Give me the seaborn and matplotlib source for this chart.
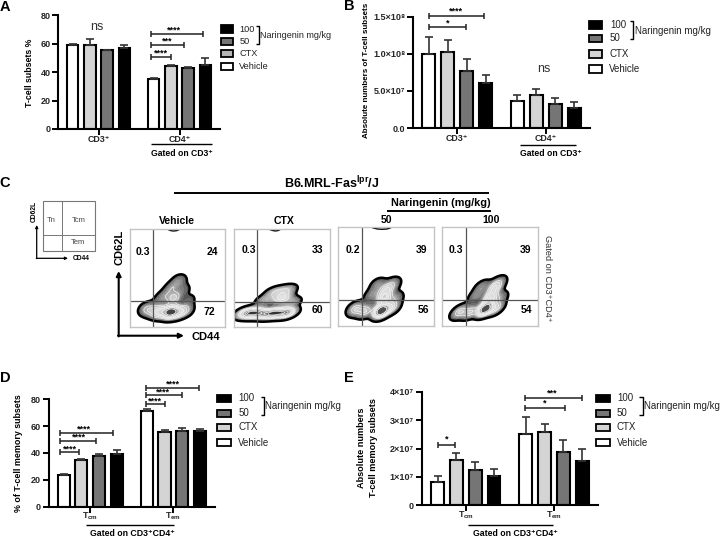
import matplotlib
matplotlib.use('Agg')
import matplotlib.pyplot as plt
from matplotlib.colors import LinearSegmentedColormap
from matplotlib.patches import Rectangle
import numpy as np
import pandas as pd
import seaborn as sns

GROUPS = ['Vehicle', 'CTX', '50', '100']
BAR_COLORS = ['white', '#d4d4d4', '#757575', 'black']

# bar panels, four values per subset in GROUPS order
a_subsets = ['CD3⁺', 'CD4⁺']
a_vals = [59, 59.5, 55.5, 57, 35.5, 44.5, 43.2, 45]
a_err = [0.7, 4.2, 0.3, 2.2, 0.5, 0.8, 0.5, 4.8]

b_subsets = ['CD3⁺', 'CD4⁺']
b_vals = [1.0e8, 1.02e8, 0.77e8, 0.6e8, 0.36e8, 0.45e8, 0.33e8, 0.27e8]
b_err = [0.23e8, 0.16e8, 0.16e8, 0.12e8, 0.08e8, 0.07e8, 0.07e8, 0.08e8]

d_subsets = [r'T$_{\mathbf{cm}}$', r'T$_{\mathbf{em}}$']
d_vals = [23.7, 34.7, 37.8, 39, 71.5, 56, 56.7, 56.2]
d_err = [0.8, 0.5, 1.2, 3, 1, 1, 1.6, 1.8]

e_subsets = [r'T$_{\mathbf{cm}}$', r'T$_{\mathbf{em}}$']
e_vals = [0.83e7, 1.58e7, 1.25e7, 1.04e7, 2.52e7, 2.58e7, 1.88e7, 1.55e7]
e_err = [0.19e7, 0.25e7, 0.28e7, 0.23e7, 0.6e7, 0.3e7, 0.42e7, 0.43e7]

# flow panels, density centres in percent of the plot box
veh_x = [17, 24, 31.5, 42, 50.5, 59, 46, 44, 51.5, 56, 31.5, 62, 37]
veh_y = [18.4, 16.3, 15.3, 15.3, 15.3, 17.3, 29.6, 39.8, 47, 38, 27.6, 27.6, 32.7]
veh_w = [2, 2, 4, 8, 4, 2, 3, 1.5, 1.5, 1, 1, 0.8, 1]

ctx_x = [12, 22, 33, 42.8, 55, 49.8, 42.5, 55, 32, 60]
ctx_y = [14.3, 14.3, 13.3, 14.3, 14.6, 29.6, 35.7, 37.8, 27.6, 25.5]
ctx_w = [2.5, 3, 2, 3, 3, 2, 1.2, 1.2, 1, 1]

n50_x = [18, 28, 44.8, 56, 47.9, 50, 57, 35.3, 60, 41.6]
n50_y = [17.2, 15.2, 15.2, 19.2, 28.4, 36.5, 42.5, 31.4, 28.4, 42]
n50_w = [2, 2, 6, 2, 3, 2, 1.2, 1, 1, 1]

n100_x = [18, 29, 44.8, 56, 50, 54.2, 58, 35.3, 60.5, 41.6]
n100_y = [14.2, 14.2, 17.2, 18.2, 28.4, 37.5, 43.5, 30.4, 28.4, 40]
n100_w = [2, 2, 6, 2, 3, 2, 1.4, 1, 1, 1]

# small contour caught at the top edge of three flow boxes
arc_x = [[40, 43, 46, 49, 52], [37, 40, 43, 46, 48], [36, 41, 46, 51, 55], []]
arc_y = [[99.5, 98.3, 98, 98.3, 99.5], [99.5, 98.5, 98, 98.5, 99.5], [99.5, 98.3, 98, 98.3, 99.5], []]

flow_vline = [24.4, 24, 24.8, 24.5]
flow_hline = [26.2, 26, 26, 26]
flow_labels = [['0.3', '24', '72'], ['0.3', '33', '60'], ['0.2', '39', '56'], ['0.3', '39', '54']]

sns.set_theme(style='ticks')
plt.rcParams['font.family'] = ['Liberation Sans', 'DejaVu Sans']
plt.rcParams['mathtext.fontset'] = 'custom'
plt.rcParams['mathtext.rm'] = 'Liberation Sans'
plt.rcParams['mathtext.bf'] = 'Liberation Sans:bold'

W, H = 720, 538
fig = plt.figure(figsize=(W / 100, H / 100), dpi=100)


def px_axes(x0, y0, x1, y1):
    return fig.add_axes([x0 / W, 1 - y1 / H, (x1 - x0) / W, (y1 - y0) / H])


def bar_panel(box, subsets, vals, err, ymax, ticks, ticklabels, xpad=0.5):
    ax = px_axes(*box)
    df = pd.DataFrame({
        'subset': np.repeat(subsets, 4),
        'group': GROUPS * 2,
        'value': vals,
        'err': err,
    })
    sns.barplot(data=df, x='subset', y='value', hue='group', hue_order=GROUPS,
                palette=BAR_COLORS, width=0.855, gap=0.32, edgecolor='black',
                linewidth=1.5, errorbar=None, legend=False, ax=ax)
    for cont, group in zip(ax.containers, GROUPS):
        sub = df[df['group'] == group]
        xs = [p.get_x() + p.get_width() / 2 for p in cont]
        ax.errorbar(xs, sub['value'], yerr=[np.zeros(2), sub['err']], fmt='none',
                    ecolor='#333333', elinewidth=1.2, capsize=3, capthick=1.2, zorder=1)
    ax.set(xlim=(-0.5, 1.5), ylim=(0, ymax), xlabel='', ylabel='')
    ax.set_yticks(ticks)
    ax.set_yticklabels(ticklabels)
    ax.tick_params(width=1.4, length=4, labelsize=6.5, pad=1.5, color='black')
    for lab in ax.get_xticklabels() + ax.get_yticklabels():
        lab.set_fontweight('bold')
    ax.tick_params(axis='x', labelsize=6.4, pad=xpad)
    for s in ['left', 'bottom']:
        ax.spines[s].set_linewidth(1.5)
        ax.spines[s].set_color('black')
    sns.despine(ax=ax)
    ax.patch.set_alpha(0)
    return ax


bar_panel((58, 15.5, 220, 129), a_subsets, a_vals, a_err, 80,
          [0, 20, 40, 60, 80], ['0', '20', '40', '60', '80'])
bar_panel((413, 16.7, 590, 128), b_subsets, b_vals, b_err, 1.5e8,
          [0, 0.5e8, 1e8, 1.5e8], ['0.0', '5.0×10⁷', '1.0×10⁸', '1.5×10⁸'])
bar_panel((48.7, 399.3, 215, 506.7), d_subsets, d_vals, d_err, 80,
          [0, 20, 40, 60, 80], ['0', '20', '40', '60', '80'], xpad=-1)
bar_panel((421.7, 391.7, 598, 505.3), e_subsets, e_vals, e_err, 4e7,
          [0, 1e7, 2e7, 3e7, 4e7], ['0', '1×10⁷', '2×10⁷', '3×10⁷', '4×10⁷'], xpad=-1)

# flow plots
flow_cmap = LinearSegmentedColormap.from_list(
    'flow', ['#4a4a4a', '#a0a0a0', '#d2d2d2', '#e2e2e2', '#c4c4c4', '#808080', '#1e1e1e'])
flow_boxes = [(130.3, 229, 224.7, 327), (234.3, 229, 330, 327),
              (338.3, 227.3, 433.7, 326), (442.3, 227.3, 537.7, 326)]
flow_events = [(veh_x, veh_y, veh_w), (ctx_x, ctx_y, ctx_w), (n50_x, n50_y, n50_w), (n100_x, n100_y, n100_w)]

for i, (box, ev) in enumerate(zip(flow_boxes, flow_events)):
    ax = px_axes(*box)
    x, y, w = ev
    sns.kdeplot(x=x, y=y, weights=w, fill=True, levels=18, thresh=0.04, bw_adjust=0.6,
                cmap=flow_cmap, gridsize=120, ax=ax)
    sns.kdeplot(x=x, y=y, weights=w, levels=[0.35, 0.5, 0.65, 0.8, 0.9], bw_adjust=0.6,
                color='#f2f2f2', linewidths=0.5, gridsize=120, ax=ax)
    sns.kdeplot(x=x, y=y, weights=w, levels=[0.04], bw_adjust=0.6,
                color='black', linewidths=1.8, gridsize=120, ax=ax)
    ax.plot(arc_x[i], arc_y[i], color='black', lw=1.0)
    ax.axvline(flow_vline[i], color='#555555', lw=0.9)
    ax.axhline(flow_hline[i], color='#555555', lw=0.9)
    ax.set(xlim=(0, 100), ylim=(0, 100), xticks=[], yticks=[], xlabel='', ylabel='')
    for s in ax.spines.values():
        s.set_color('#c4c4c4')
        s.set_linewidth(1.0)

# everything below is annotation, placed in image pixels
ov = fig.add_axes([0, 0, 1, 1], zorder=10)
ov.set(xlim=(0, W), ylim=(H, 0))
ov.axis('off')


def txt(x, y, s, size=6.5, bold=True, ha='center', va='center', rot=0, color='black'):
    ov.text(x, y, s, fontsize=size, fontweight='bold' if bold else 'normal',
            ha=ha, va=va, rotation=rot, color=color)


def line(xs, ys, lw=1.0, color='black'):
    ov.plot(xs, ys, color=color, lw=lw, solid_capstyle='butt')


def sig(x0, x1, y, stars, sx, sy):
    line([x0, x1], [y, y], 1.1, '#222222')
    for xx in (x0, x1):
        line([xx, xx], [y - 3, y + 3], 1.1, '#222222')
    txt(sx, sy + 1, stars, size=6.5)


def legend(x0, x1, ys, tx, t100x, bx, by0, by1, nx, ny, ctx_color='#d4d4d4', size=7, nsize=7):
    cols = ['black', '#757575', ctx_color, 'white']
    labs = ['100', '50', 'CTX', 'Vehicle']
    for yy, col, lab in zip(ys, cols, labs):
        ov.add_patch(Rectangle((x0, yy - 3.7), x1 - x0, 7.4, fc=col, ec='black', lw=1.3))
        txt(t100x if lab == '100' else tx, yy, lab, size=size, bold=False, ha='left', color='#222222')
    line([bx, bx + 3.3, bx + 3.3, bx], [by0, by0, by1, by1], 1.0)
    txt(nx, ny, 'Naringenin mg/kg', size=nsize, bold=False, ha='left', color='#222222')


# panel letters
for lx, ly, s in [(5, 7, 'A'), (349, 6, 'B'), (5, 183, 'C'), (5, 378, 'D'), (349, 378, 'E')]:
    txt(lx, ly, s, size=10.5)

# A
txt(29.3, 72.7, 'T-cell subsets %', size=6.3, rot=90)
txt(97, 27, 'ns', size=9, bold=False, color='#333333')
sig(150.7, 203.3, 34.3, '****', 174, 29)
sig(150.7, 184.3, 44.7, '***', 167, 40)
sig(150.7, 171.3, 57, '****', 161, 52)
line([150.7, 212.3], [144.3, 144.3], 1.0)
txt(181.7, 153.3, 'Gated on CD3⁺', size=6.2)
legend(221, 233.3, [29, 41.3, 53.7, 66.7], 239.3, 239.3, 255.5, 26, 44, 260.3, 35.7, '#b5b5b5', 6.6, 6.5)

# B
txt(366.7, 70, 'Absolute numbers of T-cell subsets', size=5.8, rot=90)
txt(544.3, 69, 'ns', size=9, bold=False, color='#333333')
sig(429, 484.3, 15.7, '****', 456, 10)
sig(429, 465.7, 27.3, '*', 447.3, 22)
line([520, 576], [144.7, 144.7], 1.0)
txt(550.7, 153.3, 'Gated on CD3⁺', size=6.2)
legend(588.7, 602.3, [25, 38.3, 54, 69], 609.3, 610.7, 630, 21.3, 39.3, 634.7, 30.7)

# D
txt(18.7, 453.3, '% of T-cell memory subsets', size=6.4, rot=90)
sig(60.3, 113, 432.7, '****', 84.3, 428.5)
sig(60.3, 96, 440.8, '****', 78.7, 436.5)
sig(60.3, 79, 452, '****', 70, 448)
sig(146, 198.7, 387.7, '****', 172.7, 383.5)
sig(146, 181.7, 395, '****', 163.3, 391)
sig(146, 165.3, 404.3, '****', 155.3, 400)
line([86, 174], [525.3, 525.3], 1.0)
txt(132.7, 534, 'Gated on CD3⁺CD4⁺', size=6.3)
legend(216.7, 231, [398.3, 413.3, 427.3, 442.7], 238.3, 238.7, 260.7, 397, 415.3, 265, 406.3)

# E
txt(361.7, 448, 'Absolute numbers', size=6.6, rot=90)
txt(374, 448, 'T-cell memory subsets', size=6.6, rot=90)
sig(438, 454.7, 445, '*', 446.3, 438)
sig(525, 582.3, 397.7, '***', 552.3, 392.5)
sig(525, 564.7, 407.7, '*', 544.7, 402.5)
line([468.3, 552.7], [525, 525], 1.0)
txt(515.7, 533.5, 'Gated on CD3⁺CD4⁺', size=6.3)
legend(595.7, 610, [398.3, 413.3, 427.3, 442.7], 616.7, 617, 639.3, 397, 415.3, 644, 406.3)

# C header
txt(332, 183, r'B6.MRL-Fas$^{\mathbf{lpr}}$/J', size=9)
line([174.3, 489.3], [193.3, 193.3], 1.4)
txt(440.7, 203.3, 'Naringenin (mg/kg)', size=7.8)
line([387.3, 490.7], [210.7, 210.7], 1.4)
for cx, cy, s in [(177.3, 221.3, 'Vehicle'), (284, 221.3, 'CTX'), (386.7, 220, '50'), (491.3, 220, '100')]:
    txt(cx, cy, s, size=7.6)
txt(547.3, 278.3, 'Gated on CD3⁺CD4⁺', size=6.6, bold=False, rot=270, color='#333333')

# C quadrant percentages
flow_text_pos = [[(142.7, 251.7), (212.3, 251.7), (209, 312.3)],
                 [(249, 250), (317.7, 250), (317.7, 310.3)],
                 [(352.7, 249.7), (421.7, 249.7), (423.3, 309.7)],
                 [(456, 249.7), (525.7, 249.7), (526.7, 309.7)]]
for pos, labs in zip(flow_text_pos, flow_labels):
    for (tx, ty), s in zip(pos, labs):
        txt(tx, ty, s, size=7.5)

# C axes arrows
ov.annotate('', xy=(118.7, 271), xytext=(118.7, 336.4),
            arrowprops=dict(arrowstyle='-|>', color='black', lw=1.5, mutation_scale=7, shrinkA=0, shrinkB=0))
ov.annotate('', xy=(184, 335.7), xytext=(118, 335.7),
            arrowprops=dict(arrowstyle='-|>', color='black', lw=1.5, mutation_scale=7, shrinkA=0, shrinkB=0))
txt(119.3, 247.3, 'CD62L', size=8, rot=90)
txt(191.7, 336.7, 'CD44', size=8, ha='left')

# C schematic
ov.add_patch(Rectangle((42.7, 200.7), 52.3, 50.6, fc='none', ec='#777777', lw=0.8))
line([61.7, 61.7], [200.7, 251.3], 0.7, '#777777')
line([42.7, 95], [234.7, 234.7], 0.7, '#777777')
txt(51.7, 220.7, 'Tn', size=5.5, bold=False, color='#444444')
txt(79, 220.7, 'Tcm', size=5.5, bold=False, color='#444444')
txt(78.3, 242.7, 'Tem', size=5.5, bold=False, color='#444444')
txt(34.3, 211, 'CD62L', size=4.8, rot=90)
txt(72.3, 258, 'CD44', size=4.8, ha='left')
ov.annotate('', xy=(36.7, 225), xytext=(36.7, 258.6),
            arrowprops=dict(arrowstyle='-|>', color='black', lw=0.9, mutation_scale=4, shrinkA=0, shrinkB=0))
ov.annotate('', xy=(68, 258.3), xytext=(36.3, 258.3),
            arrowprops=dict(arrowstyle='-|>', color='black', lw=0.9, mutation_scale=4, shrinkA=0, shrinkB=0))

fig.savefig('out.png', dpi=100)
